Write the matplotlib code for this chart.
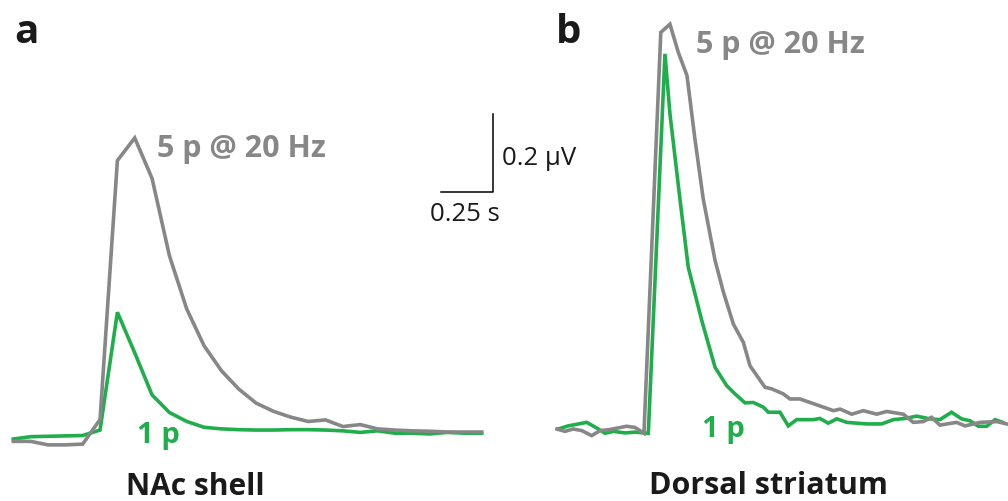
import numpy as np
import matplotlib
matplotlib.use("Agg")
import matplotlib.pyplot as plt

plt.rcParams['font.family'] = ['Open Sans', 'DejaVu Sans']

# panel a (NAc shell): uniform sampling, amplitude in uV
dt_a = 0.0834
gray_a = [-0.024, -0.024, -0.033, -0.033, -0.031, 0.032, 0.696, 0.754, 0.650, 0.452,
          0.315, 0.221, 0.157, 0.110, 0.074, 0.053, 0.038, 0.027, 0.031, 0.014,
          0.019, 0.008, 0.005, 0.003, 0.002, 0.0, 0.0, 0.0]
green_a = [-0.018, -0.012, -0.011, -0.010, -0.009, 0.005, 0.307, 0.203, 0.095, 0.050,
           0.027, 0.012, 0.008, 0.006, 0.005, 0.005, 0.006, 0.006, 0.005, 0.003,
           -0.001, 0.003, -0.003, -0.003, -0.005, -0.001, -0.003, -0.003]

# panel b (dorsal striatum): vertices (time s, amplitude uV)
t_gray_b = [0.000, 0.038, 0.078, 0.119, 0.167, 0.207, 0.247, 0.287, 0.335, 0.375,
            0.418, 0.499, 0.543, 0.583, 0.625, 0.663, 0.703, 0.760, 0.800, 0.848,
            0.896, 0.928, 1.000, 1.032, 1.088, 1.120, 1.168, 1.249, 1.329, 1.361,
            1.417, 1.473, 1.537, 1.585, 1.665, 1.713, 1.761, 1.801, 1.841, 1.921,
            1.962, 2.034, 2.114, 2.162]
v_gray_b = [0.000, -0.006, 0.000, -0.004, -0.017, -0.004, -0.002, 0.002, 0.007, 0.004,
            -0.011, 1.017, 1.038, 0.966, 0.906, 0.744, 0.590, 0.432, 0.351, 0.269,
            0.222, 0.162, 0.107, 0.103, 0.090, 0.077, 0.077, 0.062, 0.047, 0.051,
            0.038, 0.047, 0.038, 0.045, 0.038, 0.017, 0.019, 0.030, 0.010, 0.017,
            0.008, 0.017, 0.019, 0.013]
t_green_b = [0.006, 0.054, 0.143, 0.199, 0.231, 0.271, 0.327, 0.375, 0.439, 0.519,
             0.543, 0.591, 0.631, 0.696, 0.760, 0.816, 0.856, 0.904, 0.944, 0.992,
             1.016, 1.072, 1.112, 1.152, 1.232, 1.264, 1.304, 1.345, 1.393, 1.489,
             1.561, 1.617, 1.673, 1.729, 1.793, 1.841, 1.897, 1.945, 1.986, 2.026,
             2.066, 2.106, 2.143]
v_green_b = [0.000, 0.008, 0.017, 0.000, -0.011, -0.006, -0.010, -0.008, -0.011, 0.962,
             0.808, 0.590, 0.415, 0.278, 0.158, 0.111, 0.090, 0.067, 0.068, 0.056,
             0.043, 0.043, 0.008, 0.024, 0.024, 0.027, 0.015, 0.026, 0.017, 0.013,
             0.013, 0.024, 0.027, 0.033, 0.026, 0.024, 0.043, 0.026, 0.021, 0.007,
             0.007, 0.024, 0.017]

bar_t = 0.25   # s
bar_v = 0.2    # uV

GRAY = '#878787'
GREEN = '#1fae4b'
W, H = 1008, 502
PX_S, PX_UV = 208.0, 390.0   # pixels per second / per uV

fig = plt.figure(figsize=(W / 100, H / 100), dpi=100)


def panel(x_left, x_right, x0, y0):
    # axes covering pixel columns x_left..x_right, t=0 at x0, v=0 at row y0
    ax = fig.add_axes([x_left / W, 0, (x_right - x_left) / W, 1])
    ax.set_xlim((x_left - x0) / PX_S, (x_right - x0) / PX_S)
    ax.set_ylim((y0 - H) / PX_UV, y0 / PX_UV)
    ax.axis('off')
    return ax


ax_a = panel(0, 525, 13.3, 433)
t_a = np.arange(len(gray_a)) * dt_a
ax_a.plot(t_a, green_a, color=GREEN, lw=2.6, solid_joinstyle='miter')
ax_a.plot(t_a, gray_a, color=GRAY, lw=2.6, solid_joinstyle='miter')

# scale bar
bx, by = 2.056, 0.615
ax_a.plot([bx, bx + bar_t, bx + bar_t], [by, by, by + bar_v], color='k', lw=1.1)

ax_b = panel(530, 1008, 557, 430)
ax_b.plot(t_green_b, v_green_b, color=GREEN, lw=2.6, solid_joinstyle='miter')
ax_b.plot(t_gray_b, v_gray_b, color=GRAY, lw=2.6, solid_joinstyle='miter')


def txt(x, y, s, **kw):
    fig.text(x / W, 1 - y / H, s, va='baseline', ha='left', **kw)


txt(14, 43, 'a', fontsize=29, fontweight='bold', color='#1a1a1a')
txt(556, 43, 'b', fontsize=29, fontweight='bold', color='#1a1a1a')
txt(157, 157, '5 p @ 20 Hz', fontsize=22, fontweight='bold', color=GRAY)
txt(696, 53, '5 p @ 20 Hz', fontsize=22, fontweight='bold', color=GRAY)
txt(137, 443, '1 p', fontsize=21, fontweight='bold', color=GREEN)
txt(702, 437, '1 p', fontsize=21, fontweight='bold', color=GREEN)
txt(126, 495, 'NAc shell', fontsize=21.5, fontweight='bold', color='#1a1a1a')
txt(649, 494, 'Dorsal striatum', fontsize=22, fontweight='bold', color='#1a1a1a')
txt(502, 165, '0.2 µV', fontsize=18.5, color='#1a1a1a')
txt(430, 221, '0.25 s', fontsize=18.5, color='#1a1a1a')

fig.savefig('out.png', dpi=100)
